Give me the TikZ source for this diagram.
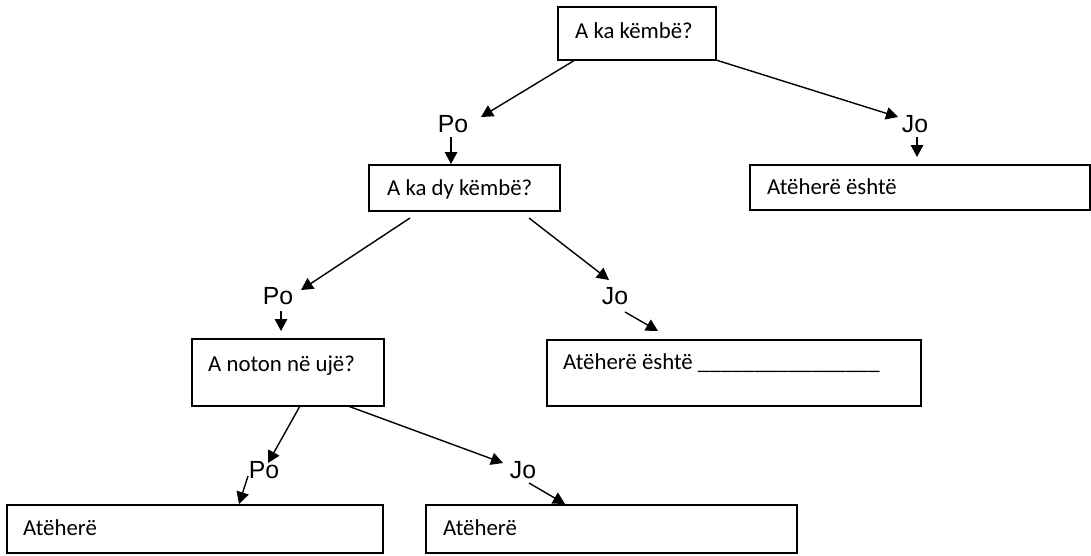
\documentclass[tikz,border=0pt]{standalone}
\usepackage{fontspec}
\setmainfont{Carlito}
\newfontfamily\arialf{Liberation Sans}
\usetikzlibrary{arrows.meta,fit}
\begin{document}
\begin{tikzpicture}[x=1pt,y=-1pt,
  box/.style={draw, line width=1.4pt, inner sep=0pt},
  qtext/.style={inner sep=0pt, anchor=base west, font=\fontsize{22.8}{27}\selectfont},
  ans/.style={inner sep=0pt, anchor=base, font=\arialf\fontsize{24.8}{29}\selectfont},
  arr/.style={line width=1.4pt, -{Triangle[length=12pt,width=12.5pt]}}]
\useasboundingbox (0,0) rectangle (1091,555);
% boxes
\node[box, fit={(558,7) (716,60)}] (q1) {};
\node[box, fit={(369,165) (560,211)}] (q2) {};
\node[box, fit={(750,165) (1090,210)}] (r1) {};
\node[box, fit={(192,339) (384,406)}] (q3) {};
\node[box, fit={(547,340) (921,406)}] (r2) {};
\node[box, fit={(7,505) (383,553)}] (r3) {};
\node[box, fit={(426,505) (797,553)}] (r4) {};
% box texts
\node[qtext] (q1t) at (575,38) {A ka këmbë?};
\node[qtext] (q2t) at (387,195) {A ka dy këmbë?};
\node[qtext] (r1t) at (767,194) {Atëherë është};
\node[qtext] (q3t) at (208,371) {A noton në ujë?};
\node[qtext] (r2t) at (563,369) {Atëherë është \textunderscore\textunderscore\textunderscore\textunderscore\textunderscore\textunderscore\textunderscore\textunderscore\textunderscore\textunderscore\textunderscore\textunderscore\textunderscore\textunderscore\textunderscore\textunderscore};
\node[qtext] (r3t) at (23,535) {Atëherë};
\node[qtext] (r4t) at (443,535) {Atëherë};
% answer labels
\node[ans] (po1) at (453,132) {Po};
\node[ans] (jo1) at (915,132) {Jo};
\node[ans] (po2) at (278,304) {Po};
\node[ans] (jo2) at (615,304) {Jo};
\node[ans] (po3) at (264,478) {Po};
\node[ans] (jo3) at (523,478) {Jo};
% connector end points
\coordinate (a1s) at (575,60);   \coordinate (a1e) at (481,117);
\coordinate (a2s) at (451,137);  \coordinate (a2e) at (451,164);
\coordinate (a3s) at (716,60);   \coordinate (a3e) at (898,117);
\coordinate (a4s) at (917,137);  \coordinate (a4e) at (917,157);
\coordinate (a5s) at (410,218);  \coordinate (a5e) at (301,290);
\coordinate (a6s) at (281,311);  \coordinate (a6e) at (281,331);
\coordinate (a7s) at (529,218);  \coordinate (a7e) at (609,280);
\coordinate (a8s) at (625,312);  \coordinate (a8e) at (658,331);
\coordinate (a9s) at (300,406);  \coordinate (a9e) at (268,463);
\coordinate (a10s) at (248,476); \coordinate (a10e) at (239,504);
\coordinate (a11s) at (348,406); \coordinate (a11e) at (503,463);
\coordinate (a12s) at (529,483); \coordinate (a12e) at (565,504);
% connectors
\draw[arr] (a1s) -- (a1e);
\draw[arr] (a2s) -- (a2e);
\draw[arr] (a3s) -- (a3e);
\draw[arr] (a4s) -- (a4e);
\draw[arr] (a5s) -- (a5e);
\draw[arr] (a6s) -- (a6e);
\draw[arr] (a7s) -- (a7e);
\draw[arr] (a8s) -- (a8e);
\draw[arr] (a9s) -- (a9e);
\draw[arr] (a10s) -- (a10e);
\draw[arr] (a11s) -- (a11e);
\draw[arr] (a12s) -- (a12e);
\end{tikzpicture}
\end{document}
